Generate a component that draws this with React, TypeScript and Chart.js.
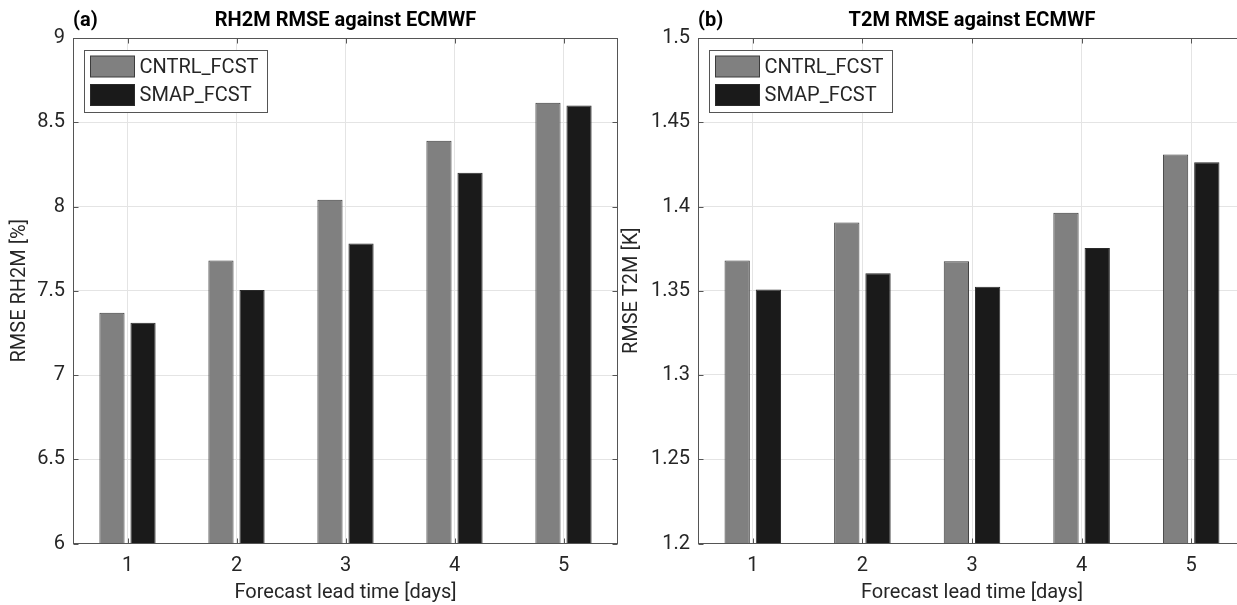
import React, { useEffect, useRef } from 'react';
import { Chart, registerables } from 'chart.js';

Chart.register(...registerables);
Chart.defaults.font.family = 'Roboto';

// ---- data ----
const categories = ['1', '2', '3', '4', '5'];
const seriesNames = ['CNTRL_FCST', 'SMAP_FCST'];
const rh2mCntrl = [7.37, 7.68, 8.04, 8.39, 8.615];
const rh2mSmap = [7.31, 7.505, 7.78, 8.2, 8.6];
const t2mCntrl = [1.368, 1.3905, 1.3675, 1.3963, 1.4308];
const t2mSmap = [1.3508, 1.3604, 1.3524, 1.3753, 1.4262];
const rh2mTicks = [6, 6.5, 7, 7.5, 8, 8.5, 9];
const t2mTicks = [1.2, 1.25, 1.3, 1.35, 1.4, 1.45, 1.5];

const TEXT = '#262626';
const AXIS = '#555555';
const GRID = '#e4e4e4';
const FILLS = ['#808080', '#1a1a1a'];
const EDGES = ['#3c3c3c', '#2a2a2a'];
const FS = 20;

const matlabPlugin = {
  id: 'matlabAxes',
  afterDraw(chart: any, _args: any, opts: any) {
    const { ctx, chartArea: a, scales } = chart;
    const xs = scales.x;
    const ys = scales.y;
    ctx.save();
    const L = Math.round(a.left) + 0.5;
    const R = Math.round(a.right) - 0.5;
    const T = Math.round(a.top) + 0.5;
    const B = Math.round(a.bottom) - 0.5;
    ctx.strokeStyle = AXIS;
    ctx.lineWidth = 1;
    ctx.strokeRect(L, T, R - L, B - T);
    ctx.beginPath();
    ys.ticks.forEach((t: any) => {
      const py = Math.round(ys.getPixelForValue(t.value)) + 0.5;
      ctx.moveTo(L, py); ctx.lineTo(L + 5, py);
      ctx.moveTo(R, py); ctx.lineTo(R - 5, py);
    });
    xs.ticks.forEach((_t: any, i: number) => {
      const px = Math.round(xs.getPixelForTick(i)) + 0.5;
      ctx.moveTo(px, B); ctx.lineTo(px, B - 5);
      ctx.moveTo(px, T); ctx.lineTo(px, T + 5);
    });
    ctx.stroke();

    // panel label and title
    ctx.fillStyle = '#000';
    ctx.font = `bold ${FS}px Roboto`;
    ctx.textBaseline = 'alphabetic';
    ctx.textAlign = 'left';
    ctx.fillText(opts.panel, a.left, 25.5);
    ctx.textAlign = 'center';
    ctx.fillText(opts.title, (a.left + a.right) / 2, 25.5);

    // legend
    const bx = Math.round(a.left + 11) + 0.5;
    const by = Math.round(a.top + 12) + 0.5;
    const bw = opts.legendWidth;
    const bh = 62;
    ctx.fillStyle = '#fff';
    ctx.fillRect(bx, by, bw, bh);
    ctx.strokeStyle = AXIS;
    ctx.strokeRect(bx, by, bw, bh);
    ctx.font = `${FS}px Roboto`;
    ctx.textAlign = 'left';
    ctx.textBaseline = 'middle';
    chart.data.datasets.forEach((ds: any, i: number) => {
      const top = by + 5.5 + i * 28.5;
      ctx.fillStyle = ds.backgroundColor;
      ctx.fillRect(bx + 6, top, 44, 21);
      ctx.strokeStyle = ds.borderColor;
      ctx.strokeRect(bx + 6, top, 44, 21);
      ctx.fillStyle = TEXT;
      ctx.fillText(ds.label, bx + 55, top + 11.5);
    });
    ctx.restore();
  },
};

function makeConfig(
  cntrl: number[], smap: number[], ticks: number[], yTitle: string,
  yWidth: number, padRight: number, yTitlePad: number, panel: string, title: string
): any {
  const yMin = ticks[0];
  const yMax = ticks[ticks.length - 1];
  return {
    type: 'bar',
    data: {
      labels: categories,
      datasets: [cntrl, smap].map((vals, i) => ({
        label: seriesNames[i],
        data: vals,
        base: yMin,
        backgroundColor: FILLS[i],
        borderColor: EDGES[i],
        borderWidth: 1,
        categoryPercentage: 0.57,
        barPercentage: 0.81,
      })),
    },
    options: {
      animation: false,
      responsive: false,
      events: [],
      layout: { padding: { top: 38, right: padRight, left: 0, bottom: 0 } },
      plugins: {
        legend: { display: false },
        tooltip: { enabled: false },
        title: { display: false },
        matlabAxes: { panel, title, legendWidth: 183 },
      },
      scales: {
        x: {
          type: 'category',
          offset: true,
          grid: { offset: false, color: GRID, drawTicks: false },
          border: { display: false },
          ticks: { color: TEXT, font: { size: FS }, padding: 10.5, maxRotation: 0 },
          title: {
            display: true,
            text: 'Forecast lead time [days]',
            color: TEXT,
            font: { size: FS },
            padding: { top: 0, bottom: 0 },
          },
          afterFit: (s: any) => { s.height = 61.5; },
        },
        y: {
          type: 'linear',
          min: yMin,
          max: yMax,
          grid: { color: GRID, drawTicks: false },
          border: { display: false },
          afterBuildTicks: (s: any) => { s.ticks = ticks.map((v) => ({ value: v })); },
          ticks: {
            color: TEXT,
            font: { size: FS },
            padding: 8,
            callback: (v: any) => String(v),
          },
          title: {
            display: true,
            text: yTitle,
            color: TEXT,
            font: { size: FS },
            padding: { top: yTitlePad, bottom: 0 },
          },
          afterFit: (s: any) => { s.width = yWidth; },
        },
      },
    },
    plugins: [matlabPlugin],
  };
}

export default function App() {
  const refA = useRef<HTMLCanvasElement>(null);
  const refB = useRef<HTMLCanvasElement>(null);
  useEffect(() => {
    const a = new Chart(refA.current!, makeConfig(rh2mCntrl, rh2mSmap, rh2mTicks, 'RMSE RH2M [%]', 73, 2, 8, '(a)', 'RH2M RMSE against ECMWF'));
    const b = new Chart(refB.current!, makeConfig(t2mCntrl, t2mSmap, t2mTicks, 'RMSE T2M [K]', 78, 14, 0, '(b)', 'T2M RMSE against ECMWF'));
    return () => { a.destroy(); b.destroy(); };
  }, []);
  return (
    <div style={{ position: 'absolute', left: 0, top: 0, width: 1237, height: 605, overflow: 'hidden', background: '#fff' }}>
      <canvas ref={refA} width={620} height={605} style={{ position: 'absolute', left: 0, top: 0 }} />
      <canvas ref={refB} width={640} height={605} style={{ position: 'absolute', left: 620, top: 0 }} />
    </div>
  );
}
